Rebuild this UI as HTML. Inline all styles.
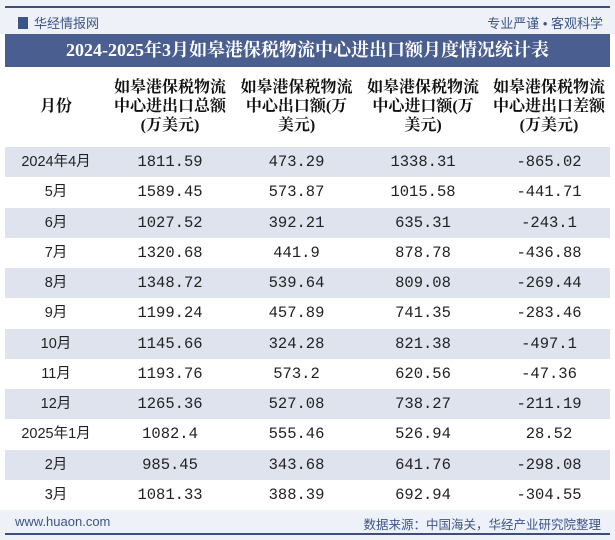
<!DOCTYPE html>
<html><head><meta charset="utf-8"><style>
*{margin:0;padding:0;box-sizing:border-box}
body{width:615px;height:540px;overflow:hidden;background:#fff;font-family:"Liberation Sans","Noto Sans CJK SC",sans-serif;position:relative}
.top{position:absolute;left:0;top:0;width:615px;height:34px;background:#eef1f7}
.topline{position:absolute;left:5px;top:6px;width:605px;height:2px;background:#3c4f7c}
.logo{position:absolute;left:18px;top:13px;font-size:13px;color:#3c5588}
.slogan{position:absolute;right:12px;top:13px;font-size:13px;color:#3c5588}
.title{position:absolute;left:5px;top:34px;width:605px;height:33px;background:#4a5f8f;color:#fff;font:bold 18px "Liberation Serif","Noto Serif CJK SC",serif;line-height:33px;text-align:center}
.hd{position:absolute;top:78px;font:bold 16px "Liberation Serif","Noto Serif CJK SC",serif;line-height:19px;color:#111;text-align:center;white-space:nowrap}
.row{position:absolute;left:5px;width:605px;height:30.25px}
.row.s{background:#dfe3ee}
.c{position:absolute;top:0;height:30px;font:15.5px "Liberation Mono","Noto Sans CJK SC",monospace;line-height:30px;text-align:center;color:#222}
.foot{position:absolute;left:0;top:510px;width:615px;height:30px;background:#eef1f7}
.fl{position:absolute;left:15px;top:514px;font-size:13px;color:#3c5588}
.fr{position:absolute;right:14px;top:514px;font-size:12.5px;color:#3c5588}
.bline{position:absolute;left:5px;top:533px;width:605px;height:2px;background:#3c4f7c}
</style></head><body>
<div class="top"></div>
<div class="topline"></div>
<div class="logo"><span style="display:inline-block;width:10px;height:12px;background:#3c5588;margin-right:6px;vertical-align:-1px"></span>华经情报网</div>
<div class="slogan">专业严谨 • 客观科学</div>
<div class="title">2024-2025年3月如皋港保税物流中心进出口额月度情况统计表</div>
<div class="hd" style="left:5px;width:102px;top:97px">月份</div>
<div class="hd" style="left:107px;width:126px">如皋港保税物流<br>中心进出口总额<br>(万美元)</div>
<div class="hd" style="left:233px;width:127px">如皋港保税物流<br>中心出口额(万<br>美元)</div>
<div class="hd" style="left:360px;width:126px">如皋港保税物流<br>中心进口额(万<br>美元)</div>
<div class="hd" style="left:486px;width:126px">如皋港保税物流<br>中心进出口差额<br>(万美元)</div>
<div id="rows"></div>
<div class="foot"></div>
<div class="fl">www.huaon.com</div>
<div class="fr">数据来源：中国海关，华经产业研究院整理</div>
<div class="bline"></div>
<script>
const months=["2024年4月","5月","6月","7月","8月","9月","10月","11月","12月","2025年1月","2月","3月"];
const totals=["1811.59","1589.45","1027.52","1320.68","1348.72","1199.24","1145.66","1193.76","1265.36","1082.4","985.45","1081.33"];
const exportsV=["473.29","573.87","392.21","441.9","539.64","457.89","324.28","573.2","527.08","555.46","343.68","388.39"];
const importsV=["1338.31","1015.58","635.31","878.78","809.08","741.35","821.38","620.56","738.27","526.94","641.76","692.94"];
const balances=["-865.02","-441.71","-243.1","-436.88","-269.44","-283.46","-497.1","-47.36","-211.19","28.52","-298.08","-304.55"];
const colL=[0,102,228,355,481], colW=[102,126,127,126,126];
const host=document.getElementById('rows');
months.forEach((m,i)=>{
  const r=document.createElement('div');
  r.className='row'+(i%2===0?' s':'');
  r.style.top=(147+i*30.25)+'px';
  
  
  [m,totals[i],exportsV[i],importsV[i],balances[i]].forEach((v,j)=>{
    const c=document.createElement('div');
    c.className='c';
    c.style.left=colL[j]+'px';c.style.width=colW[j]+'px';
    if(j===0){c.style.fontFamily='"Liberation Sans","Noto Sans CJK SC",sans-serif';c.style.fontSize='14.5px';}
    c.textContent=v;
    
    
    r.appendChild(c);
  });
  host.appendChild(r);
});
</script>
</body></html>
